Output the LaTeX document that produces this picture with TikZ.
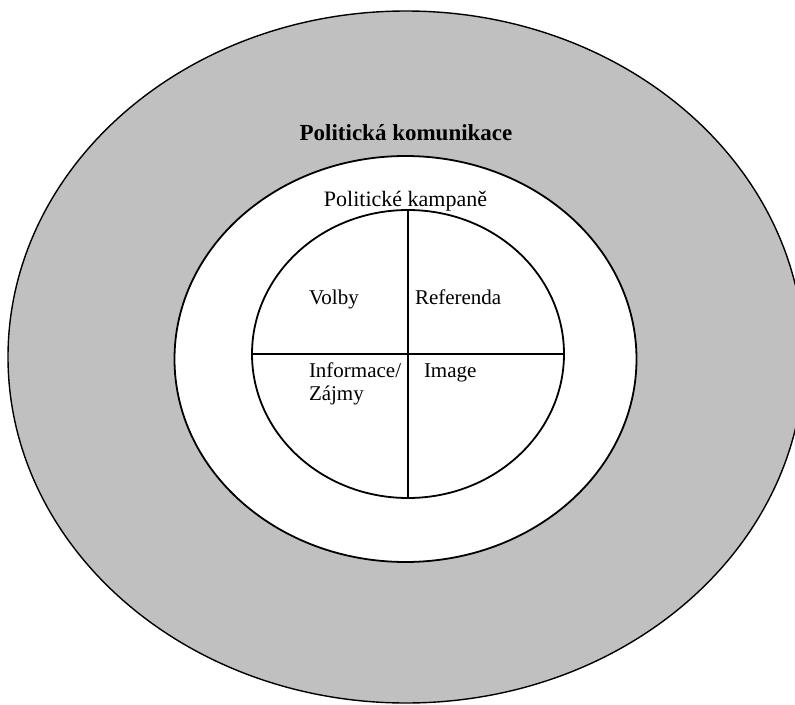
\documentclass[tikz,border=0pt]{standalone}
\usepackage{fontspec}
\setmainfont{Liberation Serif}
\usetikzlibrary{shapes.geometric}
\definecolor{ringgray}{RGB}{192,192,192}
\tikzset{
  ring/.style={ellipse, draw=black, inner sep=0pt, outer sep=0pt},
  divider/.style={draw=black, line width=1.8pt},
  lbl/.style={inner sep=0pt, outer sep=0pt, font=\fontsize{21}{23.5}\selectfont, anchor=base west, align=left},
}
\begin{document}
\begin{tikzpicture}[x=1pt, y=-1pt]
\useasboundingbox (0,0) rectangle (795,704);
\clip (0,0) rectangle (795,704);
\node[ring, fill=ringgray, line width=1.4pt, minimum width=796pt, minimum height=692pt] (outer) at (406,357) {};
\node[ring, fill=white, line width=1.8pt, minimum width=462pt, minimum height=406pt] (middle) at (405.5,359) {};
\node[ring, fill=white, line width=1.8pt, minimum width=312pt, minimum height=288pt] (inner) at (408,354) {};
\draw[divider] (inner.north) -- (inner.south);
\draw[divider] (inner.west) -- (inner.east);
\node[inner sep=0pt, anchor=base, font=\fontsize{23}{26}\selectfont\bfseries] (pk) at (406,140.5) {Politická komunikace};
\node[inner sep=0pt, anchor=base, font=\fontsize{22}{24}\selectfont] (kamp) at (405.5,206.5) {Politické kampaně};
\node[lbl] (volby) at (309,304) {Volby};
\node[lbl] (ref) at (415,304) {Referenda};
\node[lbl] (info) at (309,400.5) {Informace/\\Zájmy};
\node[lbl] (img) at (424,377) {Image};
\end{tikzpicture}
\end{document}
